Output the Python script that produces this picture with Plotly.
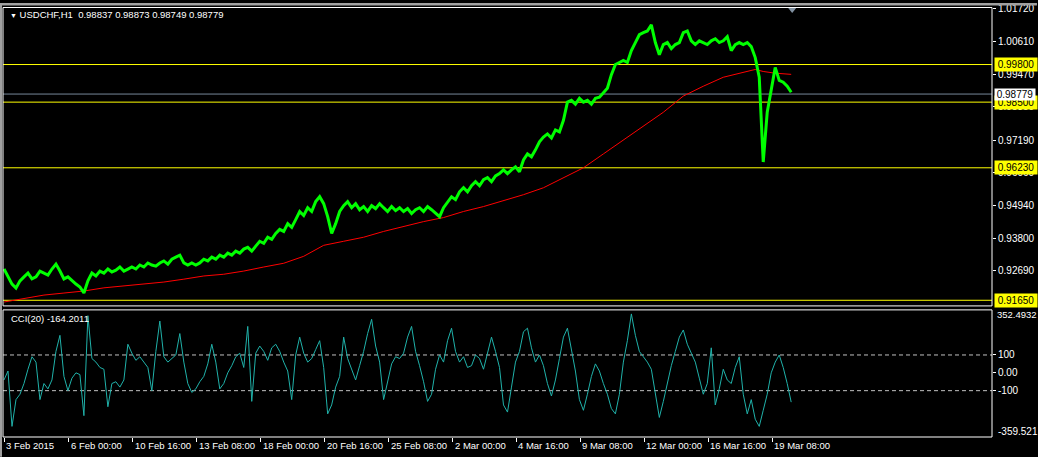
import plotly.graph_objects as go

# ---------------- data ----------------
# hourly USDCHF closes, sampled every 4 bars
close = [
 0.9273,0.9249,0.9221,0.9207,0.9232,0.9246,0.9259,0.9239,0.9246,0.9266,
 0.9259,0.9252,0.9273,0.9290,0.9266,0.9239,0.9246,0.9232,0.9221,0.9211,
 0.9190,0.9232,0.9259,0.9249,0.9266,0.9259,0.9273,0.9263,0.9269,0.9280,
 0.9266,0.9273,0.9280,0.9273,0.9287,0.9280,0.9294,0.9287,0.9283,0.9294,
 0.9301,0.9290,0.9307,0.9314,0.9321,0.9294,0.9287,0.9294,0.9287,0.9294,
 0.9307,0.9301,0.9314,0.9307,0.9321,0.9314,0.9328,0.9321,0.9335,0.9328,
 0.9342,0.9348,0.9335,0.9352,0.9369,0.9362,0.9383,0.9376,0.9396,0.9410,
 0.9403,0.9430,0.9417,0.9444,0.9472,0.9458,0.9485,0.9472,0.9506,0.9523,
 0.9499,0.9454,0.9396,0.9430,0.9472,0.9492,0.9506,0.9485,0.9499,0.9478,
 0.9489,0.9472,0.9492,0.9482,0.9499,0.9485,0.9472,0.9489,0.9475,0.9485,
 0.9472,0.9482,0.9465,0.9478,0.9485,0.9472,0.9489,0.9478,0.9465,0.9454,
 0.9485,0.9506,0.9523,0.9513,0.9540,0.9554,0.9540,0.9561,0.9575,0.9561,
 0.9582,0.9589,0.9575,0.9595,0.9603,0.9616,0.9603,0.9616,0.9626,0.9609,
 0.9650,0.9671,0.9661,0.9685,0.9713,0.9729,0.9740,0.9726,0.9754,0.9747,
 0.9787,0.9850,0.9856,0.9843,0.9863,0.9850,0.9856,0.9843,0.9863,0.9867,
 0.9884,0.9898,0.9945,0.9980,0.9987,0.9994,0.9987,1.0028,1.0056,1.0083,
 1.0090,1.0096,1.0117,1.0056,1.0014,1.0049,1.0056,1.0035,1.0049,1.0056,
 1.0090,1.0096,1.0062,1.0049,1.0062,1.0056,1.0049,1.0062,1.0069,1.0056,
 1.0062,1.0076,1.0028,1.0049,1.0056,1.0049,1.0056,1.0042,1.0004,0.9936,
 0.9643,0.9815,0.9891,0.9970,0.9925,0.9919,0.9905,0.9884,
]

# moving average (red), sampled at these bars
ma_bar = [0,20,40,60,80,100,120,140,160,180,200,220,240,260,280,300,320,340,
          360,380,400,420,440,460,480,500,520,540,560,580,600,620,640,660,680,
          700,720,740,752,760,772,788]
ma_val = [0.9159,0.9170,0.9183,0.9190,0.9197,0.9208,0.9214,0.9221,0.9228,0.9238,
          0.9249,0.9255,0.9266,0.9280,0.9293,0.9317,0.9355,0.9369,0.9383,0.9403,
          0.9420,0.9437,0.9451,0.9472,0.9489,0.9510,0.9530,0.9554,0.9589,0.9623,
          0.9671,0.9719,0.9768,0.9815,0.9871,0.9905,0.9936,0.9953,0.9963,0.9956,
          0.9950,0.9946]

# CCI(20), sampled every 4 bars
cci = [
 -40,10,-300,-150,-120,-60,20,90,60,-150,-60,-90,-40,120,210,-20,-100,-30,0,-10,
 -240,320,80,60,30,20,-190,-60,-50,-80,-40,160,110,70,90,60,30,-100,120,290,
 90,60,80,100,220,60,-60,-110,-90,-50,-20,50,160,60,-90,-60,0,40,90,110,
 30,260,-160,110,150,120,70,140,160,120,60,10,-150,100,200,110,60,80,130,180,
 30,-230,-180,-80,-20,200,80,20,-40,40,120,220,300,150,60,-150,-40,50,90,80,
 110,200,260,120,40,-50,-160,-120,20,100,60,180,250,120,60,90,30,40,100,80,
 20,110,200,120,30,-180,-220,-80,60,120,230,250,140,60,100,40,-60,-130,-40,80,
 200,250,130,10,-150,-210,-120,-20,50,10,-60,-120,-200,-230,-120,60,180,330,210,120,
 90,60,20,-120,-250,-160,-60,40,120,200,240,160,110,60,-30,-120,-60,140,-180,-90,
 20,-40,-60,30,90,-120,-230,-150,-260,-300,-210,-120,0,60,100,30,-60,-164.2011,
]

levels = [0.99800, 0.98500, 0.96230, 0.91650]
level_text = ["0.99800", "0.98500", "0.96230", "0.91650"]
bid = 0.98779
price_ticks = [1.01720, 1.00610, 0.99470, 0.98350, 0.97190, 0.96060, 0.94940, 0.93800, 0.92690]
cci_max, cci_min = 352.4932, -359.521
cci_ticks = [100, 0, -100]
cci_tick_text = ["100", "0.00", "-100"]
time_bar = [0, 65, 129, 193, 257, 321, 385, 449, 513, 577, 641, 705, 769]
time_text = ["3 Feb 2015", "6 Feb 00:00", "10 Feb 16:00", "13 Feb 08:00", "18 Feb 00:00",
             "20 Feb 16:00", "25 Feb 08:00", "2 Mar 00:00", "4 Mar 16:00", "9 Mar 08:00",
             "12 Mar 00:00", "16 Mar 16:00", "19 Mar 08:00"]
header = "USDCHF,H1  0.98837 0.98873 0.98749 0.98779"
cci_label = "CCI(20) -164.2011"

# ---------------- layout helpers ----------------
W, H = 1038, 457
ML, MR, MT, MB = 3, 45, 5, 20
PW, PH = W - ML - MR, H - MT - MB
def px_x(px): return (px - ML) / PW
def px_y(py): return (H - MB - py) / PH

FONT = "Liberation Sans"
SMALL = 9.5
bars = list(range(0, 4 * len(close), 4))
cci_bars = list(range(0, 4 * len(cci), 4))

fig = go.Figure()
fig.add_trace(go.Scatter(x=ma_bar, y=ma_val, mode="lines", line=dict(color="#FF0000", width=1),
                         xaxis="x", yaxis="y", hoverinfo="skip"))
fig.add_trace(go.Scatter(x=bars, y=close, mode="lines", line=dict(color="#00FF00", width=3),
                         xaxis="x", yaxis="y", hoverinfo="skip"))
fig.add_trace(go.Scatter(x=cci_bars, y=cci, mode="lines", line=dict(color="#20B2AA", width=1),
                         xaxis="x", yaxis="y2", hoverinfo="skip"))

shapes = []
for lv in levels:
    shapes.append(dict(type="line", xref="paper", x0=0, x1=1, yref="y", y0=lv, y1=lv,
                       line=dict(color="#FFFF00", width=1), layer="below"))
shapes.append(dict(type="line", xref="paper", x0=0, x1=1, yref="y", y0=bid, y1=bid,
                   line=dict(color="#778899", width=1), layer="below"))
for v in (100, -100):
    shapes.append(dict(type="line", xref="paper", x0=0, x1=1, yref="y2", y0=v, y1=v,
                       line=dict(color="#C0C0C0", width=1, dash="4px,3px"), layer="below"))
# panel frames
shapes.append(dict(type="rect", xref="paper", yref="paper", x0=0, x1=1, y0=px_y(305), y1=px_y(4.5),
                   line=dict(color="white", width=1)))
shapes.append(dict(type="rect", xref="paper", yref="paper", x0=0, x1=1, y0=0, y1=px_y(309),
                   line=dict(color="white", width=1)))
# window chrome
shapes.append(dict(type="rect", xref="paper", yref="paper", x0=px_x(0), x1=px_x(W), y0=px_y(0),
                   y1=px_y(2.5), fillcolor="#A0A0A0", line=dict(width=0)))
shapes.append(dict(type="rect", xref="paper", yref="paper", x0=px_x(0), x1=px_x(2), y0=px_y(H),
                   y1=px_y(0), fillcolor="#A0A0A0", line=dict(width=0)))
# chart shift marker
shapes.append(dict(type="path", xref="paper", yref="paper",
                   path=f"M {px_x(789)} {px_y(5)} L {px_x(797)} {px_y(5)} L {px_x(793)} {px_y(10)} Z",
                   fillcolor="#8090A0", line=dict(width=0)))

ann = []
for lv, t in zip(levels, level_text):
    ann.append(dict(xref="paper", x=1, xanchor="left", xshift=2, yref="y", y=lv, yanchor="middle",
                    text=t, showarrow=False, bgcolor="#FFFF00", borderpad=1, width=40, align="center",
                    font=dict(family=FONT, size=10, color="black")))
ann.append(dict(xref="paper", x=1, xanchor="left", xshift=2, yref="y", y=bid, yanchor="middle",
                text=f"{bid:.5f}", showarrow=False, bgcolor="#FFFFFF", borderpad=0, width=40,
                align="center", font=dict(family=FONT, size=10, color="black")))
ann.append(dict(xref="paper", x=1, xanchor="left", xshift=3, yref="paper", y=px_y(314),
                yanchor="middle", text=f"{cci_max}", showarrow=False,
                font=dict(family=FONT, size=SMALL, color="white")))
ann.append(dict(xref="paper", x=1, xanchor="left", xshift=4, yref="paper", y=px_y(431),
                yanchor="middle", text=f"{cci_min}", showarrow=False,
                font=dict(family=FONT, size=10, color="white")))
for b, t in zip(time_bar, time_text):
    ann.append(dict(xref="x", x=b, xanchor="left", xshift=0, yref="paper", y=px_y(446),
                    yanchor="middle", text=t, showarrow=False,
                    font=dict(family=FONT, size=SMALL, color="white")))
ann.append(dict(xref="paper", x=px_x(8), xanchor="left", yref="paper", y=px_y(12), yanchor="middle",
                text="<span style='font-size:7px'>▼</span> " + header, showarrow=False,
                font=dict(family=FONT, size=SMALL, color="white")))
ann.append(dict(xref="paper", x=px_x(9), xanchor="left", yref="paper", y=px_y(318), yanchor="middle",
                text=cci_label, showarrow=False, font=dict(family=FONT, size=SMALL, color="white")))

fig.update_layout(
    width=W, height=H, margin=dict(l=ML, r=MR, t=MT, b=MB),
    paper_bgcolor="black", plot_bgcolor="black", showlegend=False,
    font=dict(family=FONT, size=10, color="white"),
    xaxis=dict(domain=[0, 1], range=[-1, PW - 1], anchor="y2", showgrid=False, zeroline=False,
               showline=False, ticks="outside", ticklen=4, tickcolor="white",
               tickvals=time_bar, showticklabels=False, fixedrange=True),
    yaxis=dict(domain=[px_y(305), px_y(5)], range=[0.91455, 1.01754], side="right", anchor="x",
               showgrid=False, zeroline=False, showline=False, ticks="outside", ticklen=3,
               tickcolor="white", tickvals=price_ticks, tickformat=".5f",
               tickfont=dict(family=FONT, size=10, color="white")),
    yaxis2=dict(domain=[0, px_y(309)], range=[cci_min, cci_max], side="right", anchor="x",
                showgrid=False, zeroline=False, showline=False, ticks="outside", ticklen=3,
                tickcolor="white", tickvals=cci_ticks, ticktext=cci_tick_text,
                tickfont=dict(family=FONT, size=10, color="white")),
    shapes=shapes, annotations=ann,
)
fig.write_html("out.html", config={"displayModeBar": False},
               post_script="document.body.style.margin='0';document.body.style.background='black';")
